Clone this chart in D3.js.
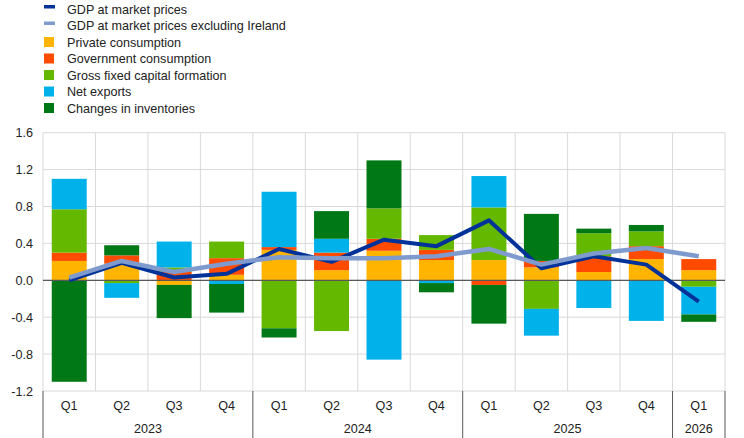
<!DOCTYPE html>
<html>
<head>
<meta charset="utf-8">
<script src="https://cdn.jsdelivr.net/npm/d3@7"></script>
<style>
  body { margin: 0; background: #fff; }
  text { font-family: Arial, "Liberation Sans", sans-serif; }
</style>
</head>
<body>
<script>
// dati (punti percentuali, variazioni trimestrali)
var quarters = ["Q1","Q2","Q3","Q4","Q1","Q2","Q3","Q4","Q1","Q2","Q3","Q4","Q1"];
var years = ["2023","2024","2025","2026"];
var yearSpan = [4, 4, 4, 1];
var yTicks = [-1.2, -0.8, -0.4, 0.0, 0.4, 0.8, 1.2, 1.6];

var privateCons    = [0.21, 0.18, -0.05, 0.06, 0.33, 0.11, 0.32, 0.22, 0.22, 0.14, 0.09, 0.23, 0.11];
var governmentCons = [0.09, 0.09, 0.09, 0.18, 0.03, 0.19, 0.13, 0.11, -0.05, 0.07, 0.17, 0.14, 0.12];
var gfcf           = [0.47, -0.03, 0.05, 0.18, -0.52, -0.55, 0.33, 0.16, 0.57, -0.31, 0.25, 0.16, -0.07];
var netExports     = [0.33, -0.16, 0.28, -0.04, 0.60, 0.15, -0.86, -0.03, 0.34, -0.29, -0.30, -0.44, -0.30];
var inventories    = [-1.10, 0.11, -0.36, -0.31, -0.10, 0.30, 0.52, -0.10, -0.42, 0.51, 0.05, 0.07, -0.08];

var gdp        = [0.00, 0.19, 0.03, 0.07, 0.34, 0.20, 0.44, 0.37, 0.65, 0.13, 0.26, 0.17, -0.23];
var gdpExclIre = [0.03, 0.21, 0.09, 0.18, 0.25, 0.24, 0.24, 0.26, 0.34, 0.17, 0.29, 0.35, 0.26];

var seriesNames = ["Private consumption","Government consumption","Gross fixed capital formation","Net exports","Changes in inventories"];
var seriesColors = ["#ffb400","#ff4b00","#65b800","#00b1ea","#007816"];
var lineNames = ["GDP at market prices","GDP at market prices excluding Ireland"];
var lineColors = ["#003299","#7f9bcd"];

var W = 744, H = 438;
var plotLeft = 43, plotRight = 725, plotTop = 132.7, plotBottom = 391;
var fontSize = 12.6;

var svg = d3.select("body").append("svg")
    .attr("width", W)
    .attr("height", H);

// scale
var idx = d3.range(quarters.length);
var x = d3.scaleBand()
    .domain(idx)
    .range([plotLeft, plotRight])
    .paddingInner(1/3)
    .paddingOuter(1/6);
var y = d3.scaleLinear()
    .domain([-1.2, 1.6])
    .range([plotBottom, plotTop]);

// griglia orizzontale
svg.append("g")
    .selectAll("line")
    .data(yTicks)
    .join("line")
    .attr("x1", plotLeft).attr("x2", plotRight)
    .attr("y1", function(d){ return y(d); })
    .attr("y2", function(d){ return y(d); })
    .attr("stroke", "#d9d9d9")
    .attr("stroke-width", 1);

// griglia verticale (confini tra i trimestri)
var step = x.step();
svg.append("g")
    .selectAll("line")
    .data(d3.range(quarters.length + 1))
    .join("line")
    .attr("x1", function(d){ return plotLeft + d * step; })
    .attr("x2", function(d){ return plotLeft + d * step; })
    .attr("y1", plotTop).attr("y2", plotBottom)
    .attr("stroke", "#d9d9d9")
    .attr("stroke-width", 1);

// barre impilate
var rows = idx.map(function(i){
    return {i: i, s0: privateCons[i], s1: governmentCons[i], s2: gfcf[i], s3: netExports[i], s4: inventories[i]};
});
var stack = d3.stack()
    .keys(["s0","s1","s2","s3","s4"])
    .offset(d3.stackOffsetDiverging);
var layers = stack(rows);

svg.append("g")
    .selectAll("g")
    .data(layers)
    .join("g")
    .attr("fill", function(d, k){ return seriesColors[k]; })
    .selectAll("rect")
    .data(function(d){ return d; })
    .join("rect")
    .attr("x", function(d){ return x(d.data.i); })
    .attr("width", x.bandwidth())
    .attr("y", function(d){ return y(Math.max(d[0], d[1])); })
    .attr("height", function(d){ return Math.abs(y(d[0]) - y(d[1])); });

// linea dello zero
svg.append("line")
    .attr("x1", plotLeft).attr("x2", plotRight)
    .attr("y1", y(0)).attr("y2", y(0))
    .attr("stroke", "#595959")
    .attr("stroke-width", 1.2);

// linee del PIL
var line = d3.line()
    .x(function(d, i){ return x(i) + x.bandwidth() / 2; })
    .y(function(d){ return y(d); });

svg.append("path")
    .datum(gdp)
    .attr("d", line)
    .attr("fill", "none")
    .attr("stroke", lineColors[0])
    .attr("stroke-width", 4)
    .attr("stroke-linejoin", "round");

svg.append("path")
    .datum(gdpExclIre)
    .attr("d", line)
    .attr("fill", "none")
    .attr("stroke", lineColors[1])
    .attr("stroke-width", 4.5)
    .attr("stroke-linejoin", "round");

// etichette asse y
svg.append("g")
    .selectAll("text")
    .data(yTicks)
    .join("text")
    .attr("x", 33)
    .attr("y", function(d){ return y(d) + 4.5; })
    .attr("text-anchor", "end")
    .attr("font-size", fontSize)
    .attr("fill", "#222")
    .text(function(d){ return d.toFixed(1); });

// asse x: trimestri
svg.append("g")
    .selectAll("text")
    .data(quarters)
    .join("text")
    .attr("x", function(d, i){ return x(i) + x.bandwidth() / 2; })
    .attr("y", 409.5)
    .attr("text-anchor", "middle")
    .attr("font-size", fontSize)
    .attr("fill", "#222")
    .text(function(d){ return d; });

// asse x: anni e separatori
var yearStart = [];
var acc = 0;
yearSpan.forEach(function(n){ yearStart.push(acc); acc += n; });
yearStart.push(acc);

svg.append("g")
    .selectAll("line")
    .data(yearStart)
    .join("line")
    .attr("x1", function(d){ return plotLeft + d * step; })
    .attr("x2", function(d){ return plotLeft + d * step; })
    .attr("y1", plotBottom).attr("y2", H)
    .attr("stroke", "#595959")
    .attr("stroke-width", 1);

svg.append("g")
    .selectAll("text")
    .data(years)
    .join("text")
    .attr("x", function(d, k){ return plotLeft + (yearStart[k] + yearSpan[k] / 2) * step; })
    .attr("y", 432.5)
    .attr("text-anchor", "middle")
    .attr("font-size", fontSize)
    .attr("fill", "#222")
    .text(function(d){ return d; });

// legenda
var legendItems = [];
lineNames.forEach(function(n, k){ legendItems.push({name: n, color: lineColors[k], type: "line"}); });
seriesNames.forEach(function(n, k){ legendItems.push({name: n, color: seriesColors[k], type: "box"}); });

var leg = svg.append("g")
    .selectAll("g")
    .data(legendItems)
    .join("g")
    .attr("transform", function(d, k){ return "translate(44," + (9 + k * 16.5) + ")"; });

leg.append("rect")
    .attr("x", 0)
    .attr("y", function(d){ return d.type === "line" ? -4 : -5; })
    .attr("width", function(d){ return d.type === "line" ? 11 : 10; })
    .attr("height", function(d){ return d.type === "line" ? 3.5 : 10; })
    .attr("fill", function(d){ return d.color; });

leg.append("text")
    .attr("x", 23)
    .attr("y", 4.5)
    .attr("font-size", fontSize)
    .attr("fill", "#222")
    .text(function(d){ return d.name; });
</script>
</body>
</html>
